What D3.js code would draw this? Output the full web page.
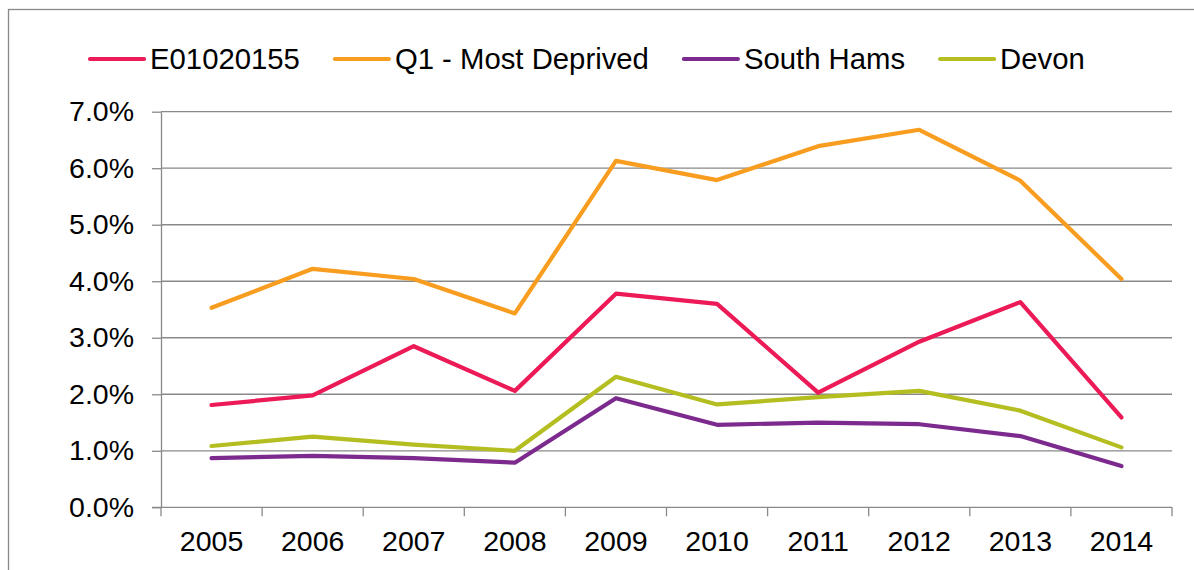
<!DOCTYPE html>
<html>
<head>
<meta charset="utf-8">
<script src="https://cdn.jsdelivr.net/npm/d3@7"></script>
<style>
  html, body { margin: 0; padding: 0; background: #fff; }
  svg { display: block; font-family: "Liberation Sans", Arial, sans-serif; }
</style>
</head>
<body>
<div id="chart"></div>
<script>
// Line chart: four series of yearly percentages, legend across the top.

const years = ['2005', '2006', '2007', '2008', '2009', '2010', '2011', '2012', '2013', '2014'];
const seriesNames = ['E01020155', 'Q1 - Most Deprived', 'South Hams', 'Devon'];
const e01020155 = [1.81, 1.98, 2.85, 2.06, 3.78, 3.60, 2.03, 2.93, 3.63, 1.59];
const q1MostDeprived = [3.53, 4.22, 4.04, 3.43, 6.13, 5.79, 6.39, 6.68, 5.78, 4.04];
const southHams = [0.87, 0.91, 0.87, 0.79, 1.93, 1.46, 1.50, 1.47, 1.26, 0.73];
const devon = [1.085, 1.25, 1.11, 1.00, 2.31, 1.82, 1.95, 2.06, 1.71, 1.06];
const yTicks = [0, 1, 2, 3, 4, 5, 6, 7];

const colors = ['#EC1A57', '#F89D1F', '#7D2A8E', '#B4BE21'];
const values = [e01020155, q1MostDeprived, southHams, devon];

const W = 1194, H = 570;
const plot = { left: 161, right: 1172, top: 111.7, bottom: 507.3 };
const axisInk = '#898989';

const svg = d3.select('#chart').append('svg').attr('width', W).attr('height', H);

// outer chart frame (runs off the right and bottom edges)
svg.append('rect').attr('x', 8.5).attr('y', 9.5).attr('width', 1200).attr('height', 600)
  .attr('fill', 'none').attr('stroke', axisInk).attr('stroke-width', 1.3);

const x = d3.scaleBand().domain(years).range([plot.left, plot.right]);
const y = d3.scaleLinear().domain([0, 7]).range([plot.bottom, plot.top]);

// horizontal gridlines + y axis
svg.append('g').attr('transform', `translate(${plot.left},0)`)
  .call(d3.axisLeft(y).tickValues(yTicks).tickFormat((d) => d.toFixed(1) + '%')
    .tickSize(9).tickSizeOuter(0).tickPadding(18))
  .call((g) => {
    g.select('.domain').attr('stroke', axisInk).attr('stroke-width', 1.3);
    g.selectAll('.tick line').attr('stroke', axisInk).attr('stroke-width', 1.3);
    g.selectAll('.tick text').attr('fill', '#000').attr('font-size', 28.5)
      .attr('font-family', '"Liberation Sans", Arial, sans-serif');
  });
svg.append('g').selectAll('line').data(yTicks.filter((d) => d > 0)).join('line')
  .attr('x1', plot.left).attr('x2', plot.right)
  .attr('y1', (d) => y(d)).attr('y2', (d) => y(d))
  .attr('stroke', axisInk).attr('stroke-width', 1.3);

// x axis with ticks between categories
svg.append('line').attr('x1', plot.left - 9).attr('x2', plot.right)
  .attr('y1', y(0)).attr('y2', y(0)).attr('stroke', axisInk).attr('stroke-width', 1.3);
const edges = years.map((d) => x(d)).concat([plot.right]);
svg.append('g').selectAll('line').data(edges).join('line')
  .attr('x1', (d) => d).attr('x2', (d) => d)
  .attr('y1', y(0)).attr('y2', y(0) + 9)
  .attr('stroke', axisInk).attr('stroke-width', 1.3);
svg.append('g').selectAll('text').data(years).join('text')
  .attr('x', (d) => x(d) + x.bandwidth() / 2).attr('y', y(0) + 44)
  .attr('text-anchor', 'middle').attr('font-size', 28.5).attr('fill', '#000').text((d) => d);

// series lines
const line = d3.line().x((v, i) => x(years[i]) + x.bandwidth() / 2).y((v) => y(v));
values.forEach((vals, k) => {
  svg.append('path').datum(vals).attr('d', line)
    .attr('fill', 'none').attr('stroke', colors[k]).attr('stroke-width', 4.2)
    .attr('stroke-linejoin', 'round').attr('stroke-linecap', 'round');
});

// legend, laid out left to right from measured text widths
let lx = 90;
const ly = 59;
seriesNames.forEach((name, k) => {
  svg.append('line').attr('x1', lx).attr('x2', lx + 54).attr('y1', ly).attr('y2', ly)
    .attr('stroke', colors[k]).attr('stroke-width', 4.2).attr('stroke-linecap', 'round');
  const t = svg.append('text').attr('x', lx + 60).attr('y', ly + 10)
    .attr('font-size', 29.3).attr('fill', '#000').text(name);
  lx += 60 + t.node().getComputedTextLength() + 35;
});
</script>
</body>
</html>
